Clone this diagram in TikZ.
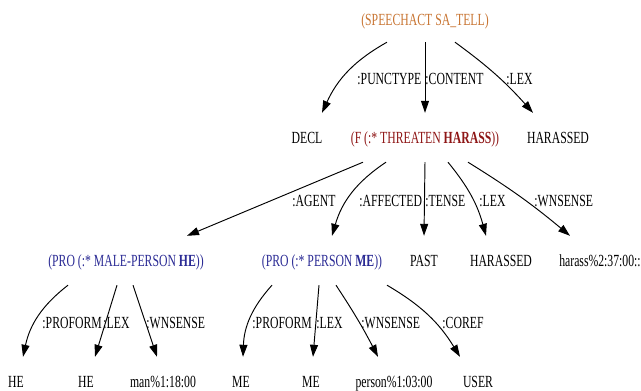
\documentclass[tikz,border=0pt]{standalone}
\usepackage{fontspec}
\setmainfont[FakeStretch=0.69]{Liberation Serif}
\usetikzlibrary{arrows.meta}
\definecolor{saorange}{HTML}{C87533}
\definecolor{fred}{HTML}{8E1616}
\definecolor{problue}{HTML}{2A2A94}
\tikzset{
  tx/.style={inner sep=0pt, text height=30pt, text depth=19pt, anchor=base, font=\fontsize{17}{20}\selectfont},
  lbl/.style={inner sep=0pt, anchor=base west, font=\fontsize{17}{20}\selectfont},
  edge/.style={line width=0.95pt, -{Triangle[length=12pt,width=8pt]}}
}
\begin{document}
\begin{tikzpicture}[x=1pt,y=1pt]
\useasboundingbox (0,0) rectangle (641,-391);
% nodes
\node[tx, text=saorange] (top) at (425,-25) {(SPEECHACT SA\_TELL)};
\node[tx] (decl) at (307,-143) {DECL};
\node[tx, text=fred] (f) at (425,-143) {(F (:* THREATEN \textbf{HARASS}))};
\node[tx] (har1) at (558,-143) {HARASSED};
\node[tx, text=problue] (prohe) at (126,-266) {(PRO (:* MALE-PERSON \textbf{HE}))};
\node[tx, text=problue] (prome) at (322,-266) {(PRO (:* PERSON \textbf{ME}))};
\node[tx] (past) at (424,-266) {PAST};
\node[tx] (har2) at (501,-266) {HARASSED};
\node[tx] (wn) at (600,-266) {harass\%2:37:00::};
\node[tx] (he1) at (16,-387) {HE};
\node[tx] (he2) at (86,-387) {HE};
\node[tx] (man) at (163,-387) {man\%1:18:00};
\node[tx] (me1) at (241,-387) {ME};
\node[tx] (me2) at (311,-387) {ME};
\node[tx] (person) at (394,-387) {person\%1:03:00};
\node[tx] (user) at (478,-387) {USER};
% edges from top
\draw[edge] ([xshift=-38pt,yshift=2pt]top.south) to[bend right=18] ([xshift=15pt]decl.north)
  node[lbl] at (357,-84) {:PUNCTYPE};
\draw[edge] ([yshift=2pt]top.south) -- (f.north)
  node[lbl] at (425,-84) {:CONTENT};
\draw[edge] ([xshift=30pt,yshift=2pt]top.south) to[bend left=6] ([xshift=-25pt]har1.north)
  node[lbl] at (506,-84) {:LEX};
% edges from f
\draw[edge] ([xshift=-62pt]f.south) -- ([xshift=61pt]prohe.north)
  node[lbl] at (292,-206) {:AGENT};
\draw[edge] ([xshift=-39pt]f.south) to[bend right=20] ([xshift=10pt]prome.north)
  node[lbl] at (359,-206) {:AFFECTED};
\draw[edge] (f.south) -- (past.north)
  node[lbl] at (425,-206) {:TENSE};
\draw[edge] ([xshift=23pt]f.south) to[bend left=12] ([xshift=-15pt]har2.north)
  node[lbl] at (479,-206) {:LEX};
\draw[edge] ([xshift=43pt]f.south) to[bend left=4] ([xshift=-30pt]wn.north)
  node[lbl] at (534,-206) {:WNSENSE};
% edges from prohe
\draw[edge] ([xshift=-58pt]prohe.south) to[bend right=20] ([xshift=7pt]he1.north)
  node[lbl] at (42,-328) {:PROFORM};
\draw[edge] ([xshift=-9pt]prohe.south) -- ([xshift=9pt]he2.north)
  node[lbl] at (103,-328) {:LEX};
\draw[edge] ([xshift=7pt]prohe.south) -- ([xshift=-6pt]man.north)
  node[lbl] at (146,-328) {:WNSENSE};
% edges from prome
\draw[edge] ([xshift=-50pt]prome.south) to[bend right=20] ([xshift=2pt]me1.north)
  node[lbl] at (252,-328) {:PROFORM};
\draw[edge] ([xshift=-3pt]prome.south) -- ([xshift=2pt]me2.north)
  node[lbl] at (316,-328) {:LEX};
\draw[edge] ([xshift=14pt]prome.south) to[bend left=3] ([xshift=-16pt]person.north)
  node[lbl] at (361,-328) {:WNSENSE};
\draw[edge] ([xshift=65pt]prome.south) to[bend left=14] ([xshift=-18pt]user.north)
  node[lbl] at (442,-328) {:COREF};
\end{tikzpicture}
\end{document}
